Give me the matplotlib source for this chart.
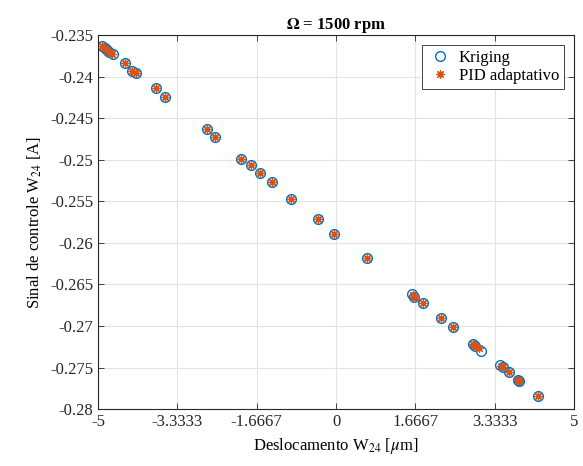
import matplotlib
matplotlib.use('Agg')
import matplotlib.pyplot as plt

plt.rcParams['font.family'] = ['Liberation Serif', 'DejaVu Serif']
plt.rcParams['mathtext.fontset'] = 'stix'

# data
x_krig = [-4.905, -4.853, -4.811, -4.758, -4.685, -4.433, -4.292, -4.202, -3.782, -3.599,
          -2.716, -2.532, -1.996, -1.782, -1.597, -1.338, -0.952, -0.372, -0.036, 0.658,
          1.603, 1.645, 1.822, 2.200, 2.452, 2.872, 2.920, 3.040, 3.445, 3.502,
          3.634, 3.817, 3.845, 4.237]
y_krig = [-0.23632, -0.23656, -0.23680, -0.23705, -0.23735, -0.23841, -0.23930, -0.23961, -0.24141, -0.24242,
          -0.24631, -0.24733, -0.24992, -0.25062, -0.25166, -0.25272, -0.25473, -0.25714, -0.25894, -0.26183,
          -0.26616, -0.26656, -0.26721, -0.26909, -0.27010, -0.27218, -0.27242, -0.27299, -0.27471, -0.27498,
          -0.27558, -0.27647, -0.27663, -0.27840]

x_pid = [-4.905, -4.853, -4.811, -4.758, -4.700, -4.433, -4.292, -4.210, -3.782, -3.599,
         -2.716, -2.532, -1.996, -1.782, -1.597, -1.338, -0.952, -0.372, -0.036, 0.658,
         1.620, 1.665, 1.822, 2.200, 2.452, 2.880, 2.940, 2.990, 3.460, 3.502,
         3.634, 3.817, 3.845, 4.237]
y_pid = [-0.23632, -0.23656, -0.23680, -0.23705, -0.23725, -0.23841, -0.23930, -0.23955, -0.24141, -0.24242,
         -0.24631, -0.24733, -0.24992, -0.25062, -0.25166, -0.25272, -0.25473, -0.25714, -0.25894, -0.26183,
         -0.26630, -0.26668, -0.26721, -0.26909, -0.27010, -0.27222, -0.27252, -0.27270, -0.27480, -0.27498,
         -0.27558, -0.27647, -0.27663, -0.27840]

xticks = [-5, -3.3333, -1.6667, 0, 1.6667, 3.3333, 5]
xtick_labels = ['-5', '-3.3333', '-1.6667', '0', '1.6667', '3.3333', '5']
yticks = [-0.28, -0.275, -0.27, -0.265, -0.26, -0.255, -0.25, -0.245, -0.24, -0.235]
ytick_labels = ['-0.28', '-0.275', '-0.27', '-0.265', '-0.26', '-0.255', '-0.25', '-0.245', '-0.24', '-0.235']

fig = plt.figure(figsize=(5.83, 4.66), dpi=100)
ax = fig.add_axes([0.168, 0.122, 0.817, 0.803])

ax.plot(x_krig, y_krig, 'o', mfc='none', mec='#0072BD', ms=7, mew=1.0, label='Kriging')
ax.plot(x_pid, y_pid, marker=(8, 2, 0), ls='none', color='#D95319', ms=6, mew=0.9, label='PID adaptativo')

ax.set_xlim(-5, 5)
ax.set_ylim(-0.28, -0.235)
ax.set_xticks(xticks)
ax.set_xticklabels(xtick_labels)
ax.set_yticks(yticks)
ax.set_yticklabels(ytick_labels)
ax.tick_params(direction='in', labelsize=12, length=4, width=0.6, top=True, right=True, colors='#262626')
ax.grid(True, color='#e3e3e3', linewidth=0.8)
ax.set_axisbelow(True)
for s in ax.spines.values():
    s.set_linewidth(0.8)
    s.set_color('#262626')

ax.set_title(r'$\mathbf{\Omega}$ = 1500 rpm', fontsize=12, fontweight='bold', pad=4)
ax.set_xlabel(r'Deslocamento W$_{24}$ [$\mu$m]', fontsize=12)
ax.set_ylabel(r'Sinal de controle W$_{24}$ [A]', fontsize=12)

leg = ax.legend(loc='upper right', fontsize=12, fancybox=False, edgecolor='#262626',
                framealpha=1, borderpad=0.3, handletextpad=0.4, borderaxespad=0.6,
                labelspacing=0.1, handlelength=1.5)
leg.get_frame().set_linewidth(0.6)

fig.savefig('out.png', dpi=100)
